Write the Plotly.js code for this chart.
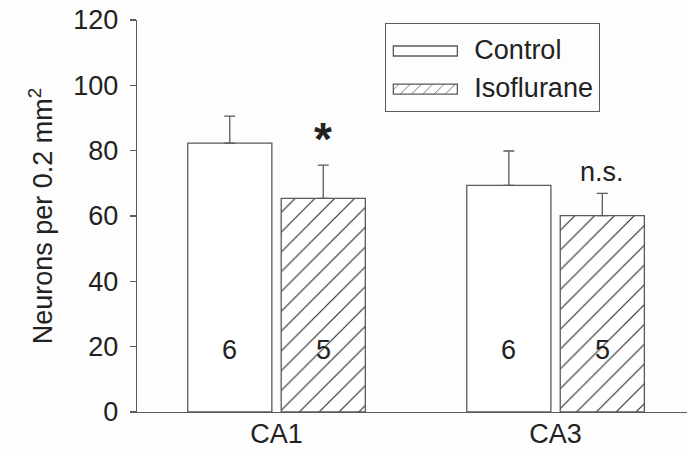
<!DOCTYPE html>
<html>
<head>
<meta charset="utf-8">
<script src="https://cdn.plot.ly/plotly-3.0.1.min.js"></script>
<style>html,body{margin:0;padding:0;background:#fdfdfd;}</style>
</head>
<body>
<div id="chart" style="width:687px;height:450px;"></div>
<script>
// ---- data ----
const regions = ["CA1", "CA3"];
const controlMean = [82.3, 69.4];
const controlErr = [8.3, 10.5];
const isoMean = [65.4, 60.1];
const isoErr = [10.2, 6.8];
const controlN = ["6", "6"];
const isoN = ["5", "5"];
const sigLabels = ["*", "n.s."];
const yTicks = [0, 20, 40, 60, 80, 100, 120];

const FONT = "Liberation Sans, Arial, sans-serif";
const TXT = "#222222";
const LINE = "#5a5a5a";
const BARGAP = 0.33;
const slot = (1 - BARGAP) / 2;

const control = {
  type: "bar", name: "Control", x: regions, y: controlMean,
  marker: { color: "#ffffff", line: { color: LINE, width: 1.3 } },
  error_y: { type: "data", symmetric: false, array: controlErr,
             arrayminus: controlErr.map(() => 0), color: LINE, thickness: 1.3, width: 5.5 },
  hoverinfo: "skip"
};
const iso = {
  type: "bar", name: "Isoflurane", x: regions, y: isoMean,
  marker: { color: "#ffffff", line: { color: LINE, width: 1.3 },
            pattern: { shape: "/", size: 14, solidity: 0.08, fgcolor: "#2a2a2a", bgcolor: "#ffffff" } },
  error_y: { type: "data", symmetric: false, array: isoErr,
             arrayminus: isoErr.map(() => 0), color: LINE, thickness: 1.3, width: 5.5 },
  hoverinfo: "skip"
};

const annotations = [];
regions.forEach((r, i) => {
  annotations.push({ x: i - slot / 2, y: 19, xref: "x", yref: "y", text: controlN[i],
    showarrow: false, font: { family: FONT, size: 27, color: TXT } });
  annotations.push({ x: i + slot / 2, y: 19, xref: "x", yref: "y", text: isoN[i],
    showarrow: false, font: { family: FONT, size: 27, color: TXT } });
  const isStar = sigLabels[i] === "*";
  annotations.push({ x: i + slot / 2, y: isoMean[i] + isoErr[i], xref: "x", yref: "y",
    text: isStar ? "<b>*</b>" : sigLabels[i], showarrow: false, yanchor: "bottom",
    yshift: isStar ? -2 : 4,
    font: { family: FONT, size: isStar ? 46 : 27, color: TXT } });
});

const layout = {
  width: 687, height: 450,
  margin: { l: 137, r: 0, t: 20, b: 38 },
  paper_bgcolor: "#fdfdfd", plot_bgcolor: "rgba(0,0,0,0)",
  barmode: "group", bargap: BARGAP, bargroupgap: 0.1,
  font: { family: FONT, size: 27, color: TXT },
  showlegend: true,
  legend: { x: 0.451, y: 0.992, xanchor: "left", yanchor: "top",
            bordercolor: LINE, borderwidth: 1.3, bgcolor: "rgba(0,0,0,0)",
            font: { family: FONT, size: 27, color: TXT }, itemwidth: 78,
            tracegroupgap: 0, traceorder: "normal" },
  xaxis: { type: "category", range: [-0.5, 1.471], showline: true, linecolor: LINE, linewidth: 1.3,
           ticks: "", showgrid: false, zeroline: false, fixedrange: true, ticklabelstandoff: -3,
           tickfont: { family: FONT, size: 27, color: TXT } },
  yaxis: { range: [0, 120], tickvals: yTicks, ticktext: yTicks.map(String), showline: true,
           linecolor: LINE, linewidth: 1.3, ticks: "outside", ticklen: 6, tickcolor: LINE, tickwidth: 1.3,
           showgrid: false, zeroline: false, ticklabelstandoff: 6, fixedrange: true,
           tickfont: { family: FONT, size: 27, color: TXT } ,
           title: { text: "Neurons per 0.2 mm<sup>2</sup>", standoff: 12,
                    font: { family: FONT, size: 27, color: TXT } } },
  annotations: annotations
};

Plotly.newPlot("chart", [control, iso], layout, { displayModeBar: false, staticPlot: true }).then(() => {
  document.querySelectorAll(".legend .traces").forEach(tr => {
    const text = tr.querySelector("text.legendtext");
    const path = tr.querySelector(".legendpoints path");
    if (!text || !path) return;
    const tb = text.getBBox();
    const m = text.getCTM().inverse().multiply(path.getCTM());
    const x1 = tb.x - 17 - 64 - m.e, x2 = tb.x - 17 - m.e;
    const yc = tb.y + tb.height / 2 - m.f + 1;
    path.setAttribute("d", `M${x1},${yc - 5}H${x2}V${yc + 5}H${x1}Z`);
  });
});
</script>
</body>
</html>
